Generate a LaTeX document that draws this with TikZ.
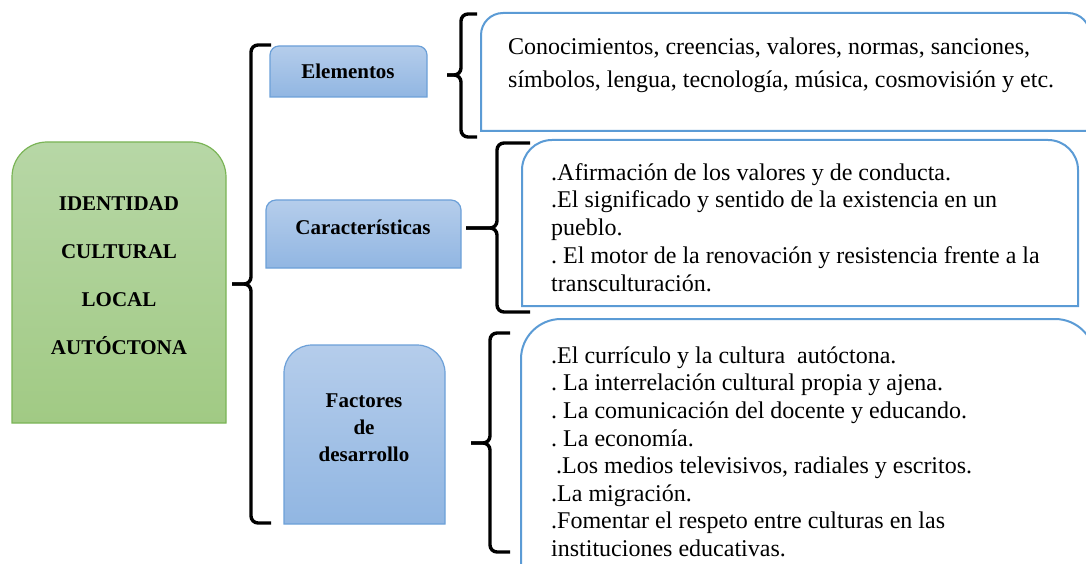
\documentclass[tikz,border=0pt]{standalone}
\usepackage{fontspec}
\setmainfont{Liberation Serif}
\definecolor{gtop}{RGB}{183,215,166}
\definecolor{gbot}{RGB}{161,202,132}
\definecolor{gline}{RGB}{122,180,86}
\definecolor{btop}{RGB}{181,205,235}
\definecolor{bbot}{RGB}{145,182,226}
\definecolor{bline}{RGB}{108,160,216}
\definecolor{cline}{RGB}{91,155,213}
\frenchspacing
\begin{document}
\begin{tikzpicture}[x=1pt,y=1pt,
  lbl/.style={font=\fontsize{21}{27}\selectfont\bfseries, align=center, inner sep=0pt},
  body/.style={font=\fontsize{24}{27.8}\selectfont, align=left, inner sep=0pt, anchor=north west},
  bracestyle/.style={line width=3.4pt, rounded corners=7pt, black},
  greenbox/.style={top color=gtop, bottom color=gbot, draw=gline, line width=1.2pt},
  bluebox/.style={top color=btop, bottom color=bbot, draw=bline, line width=1.2pt},
  textbox/.style={draw=cline, line width=2pt, fill=white}]
\clip (0,0) rectangle (1086,563);
\useasboundingbox (0,0) rectangle (1086,563);
% main green box
\path[greenbox] (12,140) -- (12,386) arc[start angle=180,end angle=90,radius=35]
  -- (191,421) arc[start angle=90,end angle=0,radius=35] -- (226,140) -- cycle;
\node[lbl, font=\fontsize{21}{48}\selectfont\bfseries] (main) at (119,287)
  {IDENTIDAD\\CULTURAL\\LOCAL\\AUTÓCTONA};
% label boxes
\path[bluebox] (270,466) -- (270,508) arc[start angle=180,end angle=90,radius=9]
  -- (418,517) arc[start angle=90,end angle=0,radius=9] -- (427,466) -- cycle;
\node[lbl] (elem) at (348,492) {Elementos};
\path[bluebox] (266,295) -- (266,353) arc[start angle=180,end angle=90,radius=10]
  -- (451,363) arc[start angle=90,end angle=0,radius=10] -- (461,295) -- cycle;
\node[lbl] (carac) at (363,336) {Características};
\path[bluebox] (284,39) -- (284,190) arc[start angle=180,end angle=90,radius=28]
  -- (417,218) arc[start angle=90,end angle=0,radius=28] -- (445,39) -- cycle;
\node[lbl] (fact) at (364,135) {Factores\\de\\desarrollo};
% content boxes
\path[textbox] (481,432) -- (481,528) arc[start angle=180,end angle=90,radius=22]
  -- (1068,550) arc[start angle=90,end angle=0,radius=22] -- (1090,432) -- cycle;
\node[body, font=\fontsize{24}{33}\selectfont] (elemtxt) at (508,527)
  {\rule{0pt}{18pt}Conocimientos, creencias, valores, normas, sanciones,\\símbolos, lengua, tecnología, música, cosmovisión y etc.};
\path[textbox] (522,257) -- (522,393) arc[start angle=180,end angle=90,radius=30]
  -- (1048,423) arc[start angle=90,end angle=0,radius=30] -- (1078,257) -- cycle;
\node[body] (caractxt) at (551,401)
  {\rule{0pt}{18pt}.Afirmación de los valores y de conducta.\\.El significado y sentido de la existencia en un\\pueblo.\\. El motor de la renovación y resistencia frente a la\\transculturación.};
\path[textbox] (521,-40) -- (521,204) arc[start angle=180,end angle=90,radius=40]
  -- (1055,244) arc[start angle=90,end angle=0,radius=40] -- (1095,-40) -- cycle;
\node[body, font=\fontsize{24}{27.6}\selectfont] (facttxt) at (551,218)
  {\rule{0pt}{18pt}.El currículo y la cultura\ \ autóctona.\\. La interrelación cultural propia y ajena.\\. La comunicación del docente y educando.\\. La economía.\\\hspace*{5pt}.Los medios televisivos, radiales y escritos.\\.La migración.\\.Fomentar el respeto entre culturas en las\\instituciones educativas.};
% braces
\draw[bracestyle] (271,518) -- (251,518) -- (251,279) -- (232,279);
\draw[bracestyle] (232,279) -- (251,279) -- (251,40) -- (271,40);
\draw[bracestyle] (477,549) -- (461,549) -- (461,488) -- (447,488);
\draw[bracestyle] (447,488) -- (461,488) -- (461,426) -- (477,426);
\draw[bracestyle] (530,420) -- (497,420) -- (497,335) -- (466,335);
\draw[bracestyle] (466,335) -- (497,335) -- (497,251) -- (530,251);
\draw[bracestyle] (510,230) -- (490,230) -- (490,120) -- (471,120);
\draw[bracestyle] (471,120) -- (490,120) -- (490,11) -- (510,11);
\end{tikzpicture}
\end{document}
